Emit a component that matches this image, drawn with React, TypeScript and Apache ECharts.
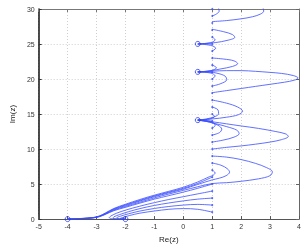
import { useEffect, useRef } from 'react';
import * as echarts from 'echarts';

const xTicks = [-5, -4, -3, -2, -1, 0, 1, 2, 3, 4];
const yTicks = [0, 5, 10, 15, 20, 25, 30];

const zeroRe = [0.5, 0.5, 0.5, -2, -4];
const zeroIm = [14.135, 21.022, 25.011, 0, 0];
const startRe = 1;
const startIm = [1, 2, 3, 4, 5, 6, 7, 8, 9, 10, 11, 12, 13, 14, 15, 16, 17, 18, 19, 20, 21, 22, 23, 24, 25, 26, 27, 28, 29, 30];

const flow1 = [[1, 1], [0.5, 1.4], [0, 1.5], [-0.5, 1.4], [-1, 1.15], [-1.5, 0.85], [-1.85, 0.52], [-2.08, 0.25], [-2.18, 0.09], [-2.12, 0.02], [-2, 0]];
const flow2 = [[1, 2], [0.5, 2.1], [0, 2.0], [-0.5, 1.8], [-1, 1.52], [-1.5, 1.15], [-1.9, 0.75], [-2.17, 0.42], [-2.3, 0.18], [-2.27, 0.05], [-2.14, 0.01], [-2, 0]];
const flow3 = [[1, 3], [0.5, 2.85], [0, 2.6], [-0.5, 2.3], [-1, 1.95], [-1.5, 1.5], [-1.9, 1.05], [-2.2, 0.65], [-2.4, 0.32], [-2.43, 0.12], [-2.33, 0.03], [-2.15, 0], [-2, 0]];
const flow4 = [[1, 4], [0.5, 3.6], [0, 3.2], [-0.5, 2.8], [-1, 2.35], [-1.5, 1.85], [-2, 1.28], [-2.3, 0.85], [-2.5, 0.45], [-2.56, 0.2], [-2.45, 0.05], [-2.2, 0], [-2, 0]];
const flow5 = [[1, 5], [0.5, 4.4], [0, 3.85], [-0.5, 3.35], [-1, 2.85], [-1.5, 2.28], [-2, 1.68], [-2.4, 1.2], [-2.7, 0.66], [-2.9, 0.35], [-3.1, 0.18], [-3.5, 0.06], [-4, 0]];
const flow6 = [[1, 6], [0.5, 5.1], [0, 4.4], [-0.5, 3.85], [-1, 3.3], [-1.5, 2.68], [-2, 2.02], [-2.4, 1.45], [-2.7, 0.8], [-2.9, 0.42], [-3.1, 0.22], [-3.5, 0.09], [-4, 0]];
const flow7 = [[1, 7], [1.1, 6.6], [1.03, 6.25], [0.9, 6.05], [0.5, 5.3], [0, 4.55], [-0.5, 3.97], [-1, 3.42], [-1.5, 2.8], [-2, 2.12], [-2.4, 1.52], [-2.7, 0.86], [-2.9, 0.45], [-3.1, 0.24], [-3.5, 0.1], [-4, 0]];
const flow8 = [[1, 8], [1.3, 7.7], [1.52, 7.2], [1.6, 6.7], [1.48, 6.2], [1.25, 5.85], [1, 5.6], [0.5, 4.95], [0, 4.28], [-0.5, 3.75], [-1, 3.2], [-1.5, 2.58], [-2, 1.92], [-2.4, 1.37], [-2.7, 0.75], [-2.9, 0.4], [-3.1, 0.2], [-3.5, 0.08], [-4, 0]];
const flow9 = [[1, 9], [1.5, 8.85], [2, 8.5], [2.5, 7.95], [2.88, 7.35], [3.08, 6.75], [3.0, 6.2], [2.6, 5.75], [2, 5.4], [1.5, 5.2], [1, 5.08], [0.5, 4.62], [0, 4.1], [-0.5, 3.58], [-1, 3.03], [-1.5, 2.42], [-2, 1.8], [-2.4, 1.28], [-2.7, 0.7], [-2.9, 0.37], [-3.1, 0.19], [-3.5, 0.07], [-4, 0]];
const flow10 = [[1, 10], [1.5, 10.25], [2, 10.45], [2.5, 10.7], [3, 11.0], [3.4, 11.35], [3.63, 11.8], [3.55, 12.15], [3.2, 12.5], [2.6, 12.95], [2, 13.3], [1.5, 13.6], [1, 13.9], [0.5, 14.135]];
const flow11 = [[1, 11], [1.4, 11.3], [1.75, 11.7], [1.93, 12.2], [1.85, 12.7], [1.5, 13.2], [1.1, 13.65], [0.8, 13.95], [0.5, 14.135]];
const flow12 = [[1, 12], [1.25, 12.35], [1.33, 12.85], [1.2, 13.4], [0.9, 13.85], [0.5, 14.135]];
const flow13 = [[1, 13], [1.1, 13.35], [1.05, 13.75], [0.8, 14.02], [0.5, 14.135]];
const flow14 = [[1, 14], [0.75, 14.1], [0.5, 14.135]];
const flow15 = [[1, 15], [1.08, 14.65], [0.9, 14.3], [0.5, 14.135]];
const flow16 = [[1, 16], [1.2, 15.6], [1.22, 15.05], [0.95, 14.45], [0.5, 14.135]];
const flow17 = [[1, 17], [1.5, 16.55], [1.88, 16.0], [2.05, 15.4], [1.9, 14.9], [1.5, 14.55], [1, 14.3], [0.5, 14.135]];
const flow18 = [[1, 18.05], [1.5, 18.35], [2, 18.65], [2.5, 18.95], [3, 19.25], [3.5, 19.55], [3.85, 19.85], [3.97, 20.15], [3.8, 20.5], [3.4, 20.8], [3, 20.95], [2.5, 21.1], [2, 21.2], [1.5, 21.2], [1, 21.12], [0.5, 21.022]];
const flow19 = [[1, 19], [1.3, 19.35], [1.5, 19.9], [1.45, 20.4], [1.2, 20.8], [0.9, 21.0], [0.5, 21.022]];
const flow20 = [[1, 20], [1.1, 20.45], [0.95, 20.85], [0.5, 21.022]];
const flow21 = [[1, 21], [0.5, 21.022]];
const flow22 = [[1, 22], [1.15, 21.6], [0.95, 21.2], [0.5, 21.022]];
const flow23 = [[1, 23], [1.4, 22.85], [1.75, 22.6], [1.88, 22.2], [1.7, 21.8], [1.3, 21.45], [0.9, 21.15], [0.5, 21.022]];
const flow24 = [[1, 24], [1.12, 24.4], [0.95, 24.8], [0.5, 25.011]];
const flow25 = [[1, 25], [0.5, 25.011]];
const flow26 = [[1, 26], [1.1, 25.6], [0.95, 25.2], [0.5, 25.011]];
const flow27 = [[1, 27.1], [1.4, 26.75], [1.7, 26.35], [1.78, 25.95], [1.55, 25.55], [1.1, 25.2], [0.5, 25.011]];
const flow28 = [[1, 28.2], [1.5, 28.35], [2, 28.6], [2.4, 28.9], [2.68, 29.3], [2.78, 29.7], [2.75, 30.3]];
const flow29 = [[1, 29], [1.15, 29.3], [1.24, 29.7], [1.2, 30.3]];

const flows = [flow1, flow2, flow3, flow4, flow5, flow6, flow7, flow8, flow9, flow10, flow11, flow12, flow13, flow14, flow15,
  flow16, flow17, flow18, flow19, flow20, flow21, flow22, flow23, flow24, flow25, flow26, flow27, flow28, flow29];

const BLUE = '#3a4cff';
const FONT = 'Liberation Sans, Arial, sans-serif';

export default function App() {
  const ref = useRef<HTMLDivElement>(null);
  useEffect(() => {
    if (!ref.current) return;
    const chart = echarts.init(ref.current, undefined, { renderer: 'svg' });
    const xMin = xTicks[0], xMax = xTicks[xTicks.length - 1];
    const yMin = yTicks[0], yMax = yTicks[yTicks.length - 1];
    const lineSeries = flows.map((f) => ({
      type: 'line',
      data: f,
      showSymbol: false,
      smooth: 0.35,
      clip: true,
      silent: true,
      lineStyle: { color: BLUE, width: 0.8 },
      z: 2,
    }));
    chart.setOption({
      animation: false,
      textStyle: { fontFamily: FONT },
      grid: { left: 21, right: 5, top: 9, bottom: 20, show: false },
      xAxis: [
        {
          type: 'value', min: xMin, max: xMax, interval: 1, position: 'bottom',
          axisLine: { show: true, onZero: false, lineStyle: { color: '#555', width: 1 } },
          axisTick: { show: true, inside: true, length: 3, lineStyle: { color: '#555' } },
          axisLabel: { fontSize: 7, color: '#333', margin: 4, showMinLabel: true, showMaxLabel: true, fontFamily: FONT },
          splitLine: { show: true, lineStyle: { type: [1, 2], color: '#c4c4c4', width: 0.8 } },
          name: 'Re(z)', nameLocation: 'middle', nameGap: 10,
          nameTextStyle: { fontSize: 8, color: '#222', fontFamily: FONT },
        },
        {
          type: 'value', min: xMin, max: xMax, interval: 1, position: 'top',
          axisLine: { show: true, onZero: false, lineStyle: { color: '#777', width: 1 } },
          axisTick: { show: true, inside: true, length: 3, lineStyle: { color: '#777' } },
          axisLabel: { show: false }, splitLine: { show: false },
        },
      ],
      yAxis: [
        {
          type: 'value', min: yMin, max: yMax, interval: 5, position: 'left',
          axisLine: { show: true, onZero: false, lineStyle: { color: '#111', width: 1.5 } },
          axisTick: { show: true, inside: true, length: 3, lineStyle: { color: '#333' } },
          axisLabel: { fontSize: 7, color: '#333', margin: 4, showMinLabel: true, showMaxLabel: true, fontFamily: FONT },
          splitLine: { show: true, lineStyle: { type: [1, 2], color: '#c4c4c4', width: 0.8 } },
          name: 'Im(z)', nameLocation: 'middle', nameGap: 15,
          nameTextStyle: { fontSize: 8, color: '#222', fontFamily: FONT },
        },
        {
          type: 'value', min: yMin, max: yMax, interval: 5, position: 'right',
          axisLine: { show: true, onZero: false, lineStyle: { color: '#666', width: 1 } },
          axisTick: { show: true, inside: true, length: 3, lineStyle: { color: '#666' } },
          axisLabel: { show: false }, splitLine: { show: false },
        },
      ],
      series: [
        ...lineSeries,
        {
          type: 'scatter',
          data: startIm.map((v) => [startRe, v]),
          symbol: 'circle', symbolSize: 2,
          itemStyle: { color: BLUE },
          silent: true, z: 3,
        },
        {
          type: 'scatter',
          data: zeroRe.map((v, i) => [v, zeroIm[i]]),
          symbol: 'circle', symbolSize: 5,
          itemStyle: { color: 'rgba(255,255,255,0)', borderColor: '#2233ee', borderWidth: 1 },
          silent: true, z: 4,
        },
      ],
    });
    return () => chart.dispose();
  }, []);
  return <div ref={ref} style={{ position: 'fixed', left: 0, top: 0, width: 304, height: 248 }} />;
}
